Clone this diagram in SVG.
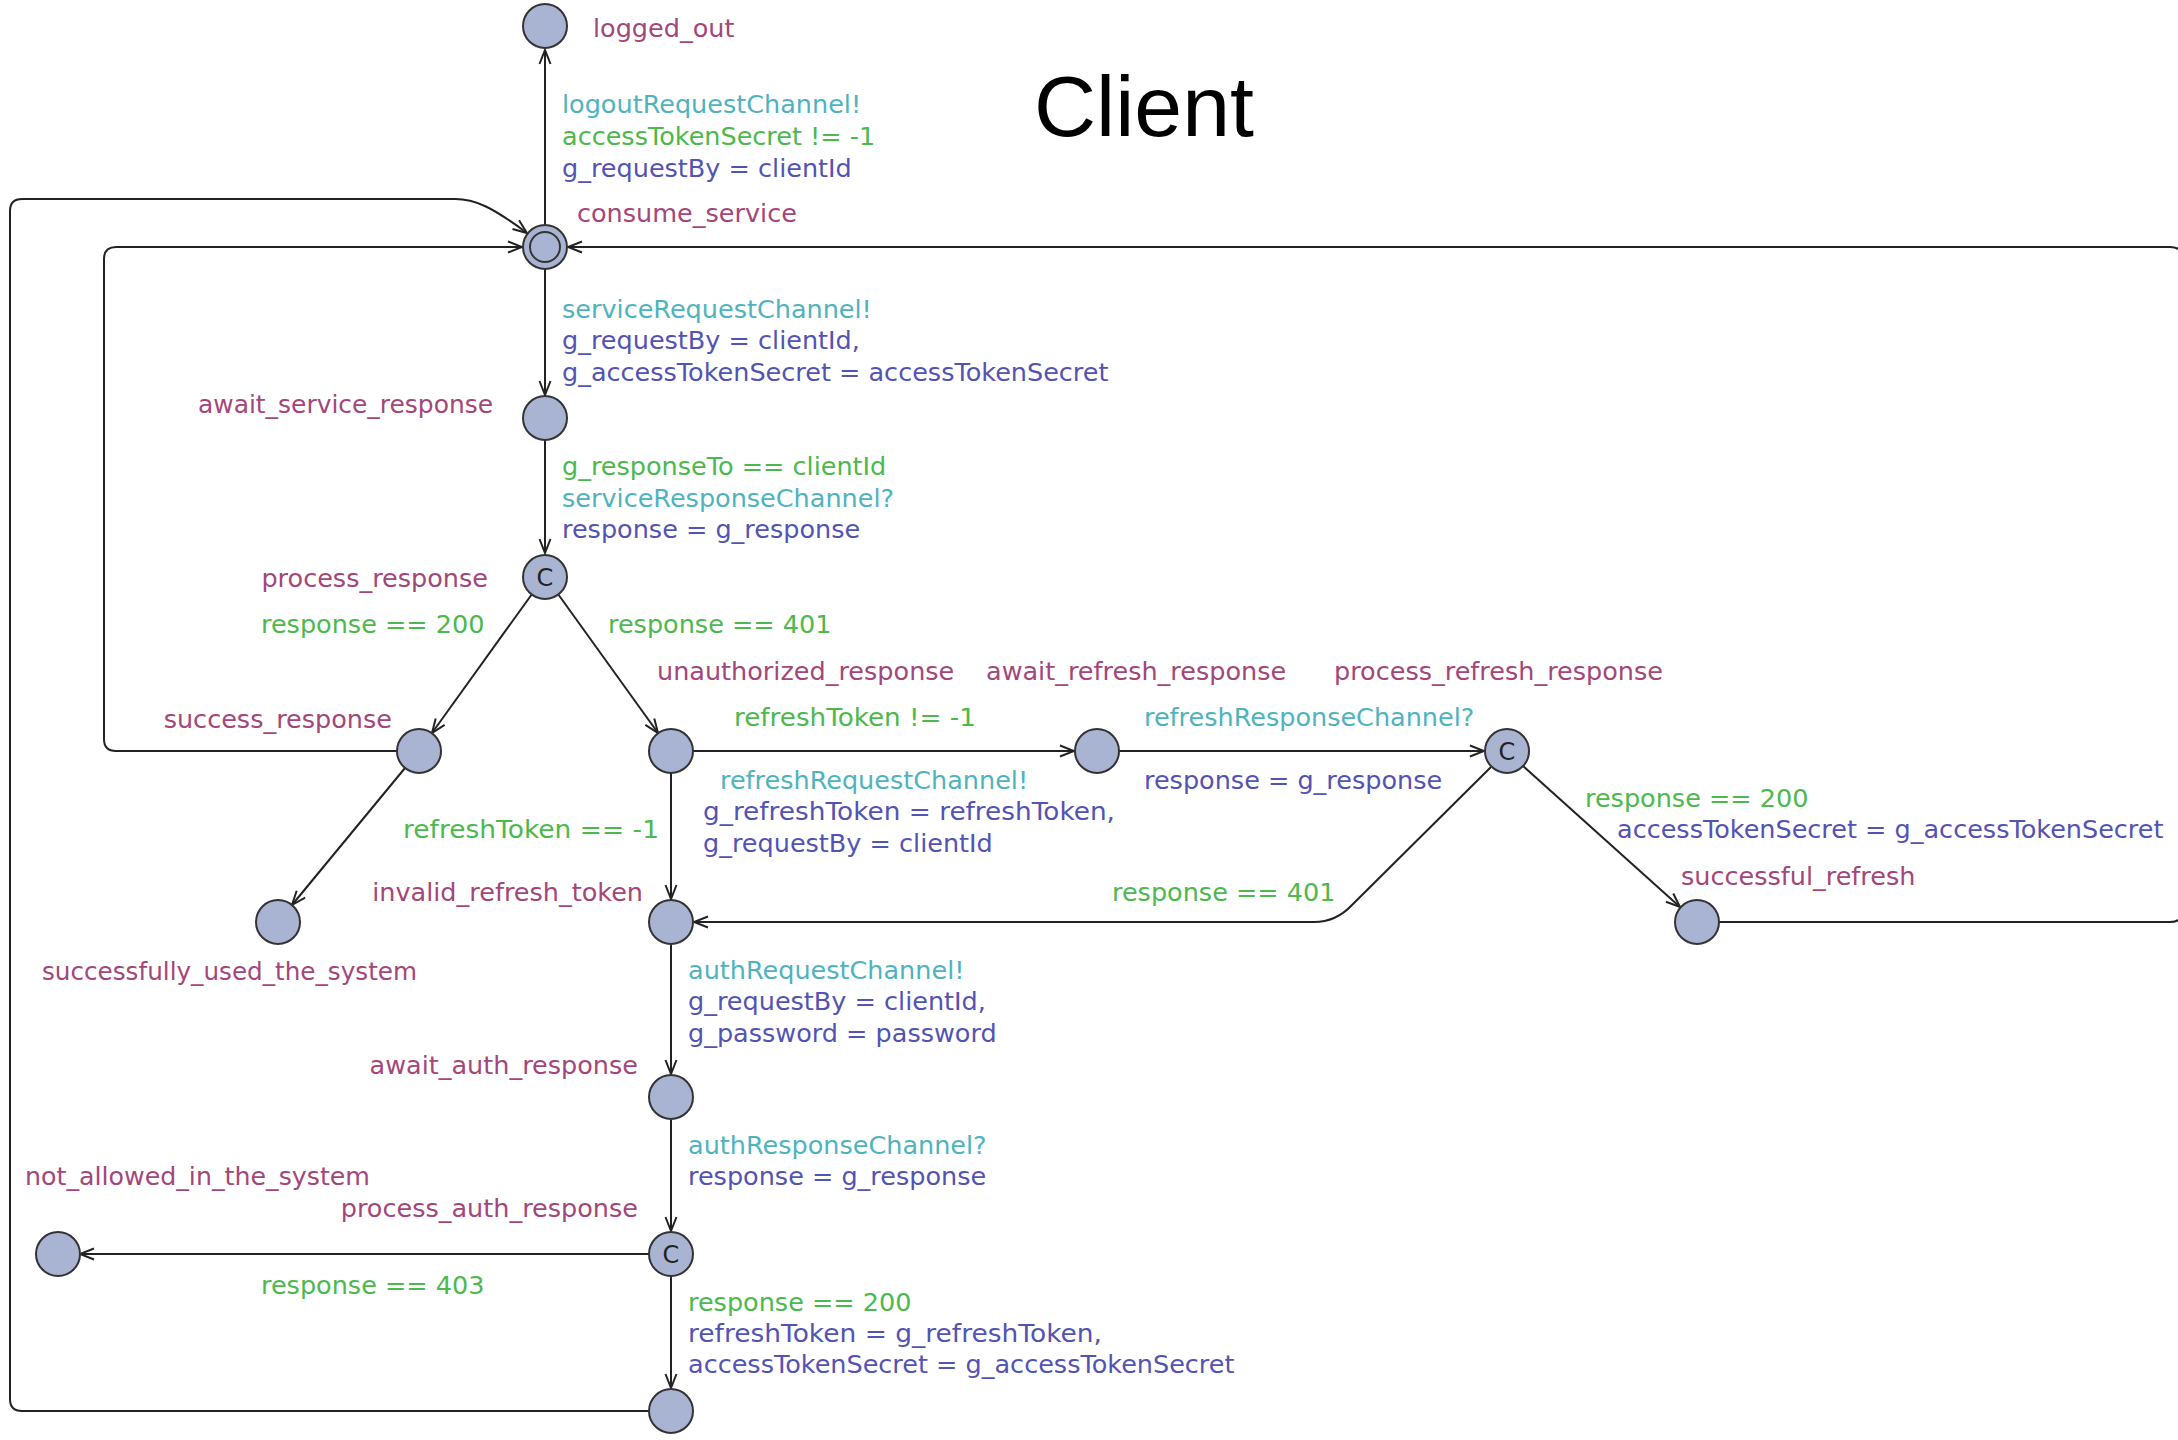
<svg xmlns="http://www.w3.org/2000/svg" width="2178" height="1440" viewBox="0 0 2178 1440">
<style>
text{font-family:"DejaVu Sans","Liberation Sans",sans-serif;font-size:25.5px}
.nm{fill:#A3467A}
.sy{fill:#4FB3BE}
.gd{fill:#4DB84D}
.up{fill:#5353B3}
.end{text-anchor:end}
.loc{fill:#A9B4D2;stroke:#333;stroke-width:2}
.cl{font-size:24px;fill:#222;text-anchor:middle}
.e{fill:none;stroke:#222;stroke-width:2;marker-end:url(#arr)}
.title{font-family:"Liberation Sans",Arial,sans-serif;font-size:86px;fill:#000}
</style>
<defs>
<marker id="arr" viewBox="-16 -8 18 16" refX="0" refY="0" markerWidth="18" markerHeight="16" markerUnits="userSpaceOnUse" orient="auto">
<path d="M-14,-5.5 L0,0 L-14,5.5" fill="none" stroke="#222" stroke-width="2"/>
</marker>
</defs>
<rect width="2178" height="1440" fill="#fff"/>
<text class="title" x="1034" y="136">Client</text>
<g id="connectors">
<line class="e" x1="545" y1="225" x2="545" y2="50"/>
<line class="e" x1="545" y1="269" x2="545" y2="395"/>
<line class="e" x1="545" y1="440" x2="545" y2="553"/>
<line class="e" x1="532" y1="594" x2="432" y2="733"/>
<line class="e" x1="558" y1="594" x2="658" y2="733"/>
<line class="e" x1="405" y1="768" x2="292" y2="905"/>
<path class="e" d="M397 751 L116 751 Q104 751 104 739 L104 259 Q104 247 116 247 L522 247"/>
<line class="e" x1="693" y1="751" x2="1074" y2="751"/>
<line class="e" x1="671" y1="773" x2="671" y2="899"/>
<line class="e" x1="1119" y1="751" x2="1484" y2="751"/>
<line class="e" x1="1523" y1="766" x2="1680" y2="907"/>
<path class="e" d="M1491 767 L1352 905 Q1336 922 1314 922 L694 922"/>
<path class="e" d="M1718 922 L2170 922 Q2184 922 2184 908 L2184 261 Q2184 247 2170 247 L568 247"/>
<line class="e" x1="671" y1="944" x2="671" y2="1074"/>
<line class="e" x1="671" y1="1120" x2="671" y2="1231"/>
<line class="e" x1="649" y1="1254" x2="80" y2="1254"/>
<line class="e" x1="671" y1="1276" x2="671" y2="1388"/>
<path class="e" d="M649 1411 L22 1411 Q10 1411 10 1399 L10 211 Q10 199 22 199 L455 199 C475 199 492 207 527 233"/>
</g>
<g id="logged_out"><circle class="loc" cx="545" cy="26" r="22"/><text class="nm" x="593" y="37">logged_out</text></g>
<g id="consume_service"><circle class="loc" cx="545" cy="247" r="22"/><circle cx="545" cy="247" r="15" fill="none" stroke="#333" stroke-width="2"/><text class="nm" x="577" y="222">consume_service</text></g>
<g id="await_service_response"><circle class="loc" cx="545" cy="418" r="22"/><text class="nm end" x="493" y="413" textLength="295" lengthAdjust="spacingAndGlyphs">await_service_response</text></g>
<g id="process_response"><circle class="loc" cx="545" cy="577" r="22"/><text class="cl" x="545" y="586">C</text><text class="nm end" x="488" y="587">process_response</text></g>
<g id="success_response"><circle class="loc" cx="419" cy="751" r="22"/><text class="nm end" x="392" y="728">success_response</text></g>
<g id="unauthorized_response"><circle class="loc" cx="671" cy="751" r="22"/><text class="nm" x="657" y="680">unauthorized_response</text></g>
<g id="await_refresh_response"><circle class="loc" cx="1097" cy="751" r="22"/><text class="nm" x="986" y="680">await_refresh_response</text></g>
<g id="process_refresh_response"><circle class="loc" cx="1507" cy="751" r="22"/><text class="cl" x="1507" y="760">C</text><text class="nm" x="1334" y="680">process_refresh_response</text></g>
<g id="successfully_used_the_system"><circle class="loc" cx="278" cy="922" r="22"/><text class="nm" x="42" y="980" textLength="375" lengthAdjust="spacingAndGlyphs">successfully_used_the_system</text></g>
<g id="invalid_refresh_token"><circle class="loc" cx="671" cy="922" r="22"/><text class="nm end" x="643" y="901">invalid_refresh_token</text></g>
<g id="successful_refresh"><circle class="loc" cx="1697" cy="922" r="22"/><text class="nm" x="1681" y="885">successful_refresh</text></g>
<g id="await_auth_response"><circle class="loc" cx="671" cy="1097" r="22"/><text class="nm end" x="638" y="1074">await_auth_response</text></g>
<g id="process_auth_response"><circle class="loc" cx="671" cy="1254" r="22"/><text class="cl" x="671" y="1263">C</text><text class="nm end" x="638" y="1217">process_auth_response</text></g>
<g id="not_allowed_in_the_system"><circle class="loc" cx="58" cy="1254" r="22"/><text class="nm" x="25" y="1185" textLength="345" lengthAdjust="spacingAndGlyphs">not_allowed_in_the_system</text></g>
<g id="authenticated"><circle class="loc" cx="671" cy="1411" r="22"/></g>
<g id="labels">
<text class="sy" x="562" y="113">logoutRequestChannel!</text>
<text class="gd" x="562" y="145">accessTokenSecret != -1</text>
<text class="up" x="562" y="177">g_requestBy = clientId</text>
<text class="sy" x="562" y="318">serviceRequestChannel!</text>
<text class="up" x="562" y="349">g_requestBy = clientId,</text>
<text class="up" x="562" y="381">g_accessTokenSecret = accessTokenSecret</text>
<text class="gd" x="562" y="475">g_responseTo == clientId</text>
<text class="sy" x="562" y="507">serviceResponseChannel?</text>
<text class="up" x="562" y="538">response = g_response</text>
<text class="gd" x="261" y="633">response == 200</text>
<text class="gd" x="608" y="633">response == 401</text>
<text class="gd" x="403" y="838" textLength="256" lengthAdjust="spacingAndGlyphs">refreshToken == -1</text>
<text class="gd" x="734" y="726" textLength="242" lengthAdjust="spacingAndGlyphs">refreshToken != -1</text>
<text class="sy" x="720" y="789">refreshRequestChannel!</text>
<text class="up" x="703" y="820" textLength="412" lengthAdjust="spacingAndGlyphs">g_refreshToken = refreshToken,</text>
<text class="up" x="703" y="852">g_requestBy = clientId</text>
<text class="sy" x="1144" y="726">refreshResponseChannel?</text>
<text class="up" x="1144" y="789">response = g_response</text>
<text class="gd" x="1112" y="901">response == 401</text>
<text class="gd" x="1585" y="807">response == 200</text>
<text class="up" x="1617" y="838">accessTokenSecret = g_accessTokenSecret</text>
<text class="sy" x="688" y="979">authRequestChannel!</text>
<text class="up" x="688" y="1010">g_requestBy = clientId,</text>
<text class="up" x="688" y="1042">g_password = password</text>
<text class="sy" x="688" y="1154">authResponseChannel?</text>
<text class="up" x="688" y="1185">response = g_response</text>
<text class="gd" x="261" y="1294">response == 403</text>
<text class="gd" x="688" y="1311">response == 200</text>
<text class="up" x="688" y="1342" textLength="414" lengthAdjust="spacingAndGlyphs">refreshToken = g_refreshToken,</text>
<text class="up" x="688" y="1373">accessTokenSecret = g_accessTokenSecret</text>
</g>
</svg>
